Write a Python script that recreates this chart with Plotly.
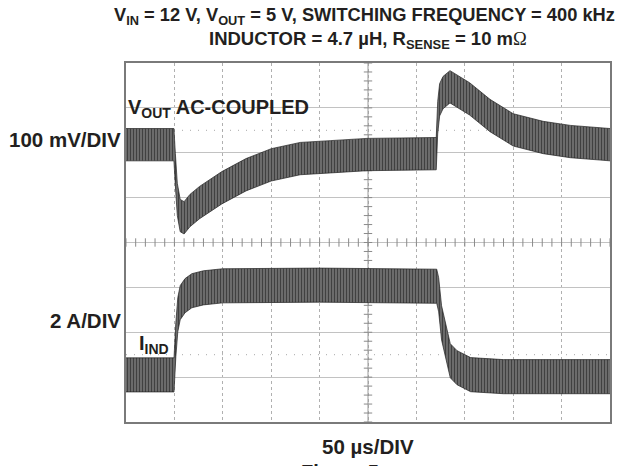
import numpy as np
import plotly.graph_objects as go

# ---------------- data ----------------
# time in microseconds (50 us/div, 10 divisions)
t_vout = [0, 20, 49.5, 51, 53, 56, 60, 66, 76, 99, 124, 150, 180, 211, 249, 285,
          320.5, 322, 324, 327.5, 334.7, 355, 376, 400, 431, 459, 500]
# VOUT deviation (AC coupled), mV (100 mV/div)
vout_mv = [0, 0, 0, -56, -122, -158, -163, -147, -129, -96, -67, -45, -31, -27, -22, -21,
           -20, 60, 100, 116, 129, 102, 65, 33, 16, 7, 0]
VOUT_RIPPLE_PP_MV = 72

t_ind = [0, 49.6, 51.5, 53.5, 56, 61, 68, 80, 100, 200, 321, 323, 326, 330, 335, 342, 356, 390, 500]
# inductor current, A (2 A/div)
i_ind = [2.1, 2.1, 3.67, 4.78, 5.32, 5.63, 5.85, 5.98, 6.07, 6.1, 6.05, 5.67, 4.42, 3.67, 2.73,
         2.42, 2.11, 2.02, 2.02]
IND_RIPPLE_PP_A = 1.52

# scope settings
US_PER_DIV = 50
MV_PER_DIV = 100
A_PER_DIV = 2
H_DIVS = 10
V_DIVS = 8
VOUT_ZERO_DIV = 2.18   # position of VOUT reference on screen (divisions from centre)
IND_ZERO_DIV = -4.0    # position of 0 A on screen
REF_MARKS_DIV = [2.5, -2.5]

# ---------------- figure ----------------
W, H = 626, 466
L, R, T, B = 126, 16, 63, 44
pw, ph = W - L - R, H - T - B

def px(x, y):
    return (x - L) / pw, (H - B - y) / ph

TXT = "#231f20"
FONT = "Liberation Sans, Arial, sans-serif"

fig = go.Figure()

t_end = US_PER_DIV * H_DIVS

# reference dotted marks
for r in REF_MARKS_DIV:
    fig.add_trace(go.Scatter(x=[0, t_end], y=[r, r], mode="lines",
                             line=dict(color="#a8a8a8", width=1, dash="1px,7px"),
                             hoverinfo="skip", showlegend=False))

# centre lines with graticule ticks
fig.add_trace(go.Scatter(x=[t_end / 2, t_end / 2], y=[-V_DIVS / 2, V_DIVS / 2], mode="lines",
                         line=dict(color="#9a9a9a", width=1), hoverinfo="skip", showlegend=False))
tx = np.arange(0, t_end + 0.1, US_PER_DIV / 5)
fig.add_trace(go.Scatter(x=tx, y=np.zeros_like(tx), mode="markers",
                         marker=dict(symbol="line-ns", size=6, line=dict(color="#8a8a8a", width=1)),
                         hoverinfo="skip", showlegend=False))
ty = np.arange(-V_DIVS / 2, V_DIVS / 2 + 0.01, 0.2)
fig.add_trace(go.Scatter(x=np.full_like(ty, t_end / 2), y=ty, mode="markers",
                         marker=dict(symbol="line-ew", size=6, line=dict(color="#8a8a8a", width=1)),
                         hoverinfo="skip", showlegend=False))

pattern = dict(shape="|", fgcolor="#000000", bgcolor="#808080", size=3, solidity=0.55)

def band(t, c, pp, yaxis):
    c = np.asarray(c, dtype=float)
    lo, hi = c - pp / 2, c + pp / 2
    fig.add_trace(go.Scatter(x=t, y=lo, yaxis=yaxis, mode="lines",
                             line=dict(color="#222222", width=0.7),
                             hoverinfo="skip", showlegend=False))
    fig.add_trace(go.Scatter(x=t, y=hi, yaxis=yaxis, mode="lines", fill="tonexty",
                             fillpattern=pattern, fillcolor="#808080",
                             line=dict(color="#222222", width=0.7),
                             hoverinfo="skip", showlegend=False))

band(t_vout, vout_mv, VOUT_RIPPLE_PP_MV, "y2")
band(t_ind, i_ind, IND_RIPPLE_PP_A, "y3")

axis_common = dict(showticklabels=False, ticks="", zeroline=False)
fig.update_layout(
    width=W, height=H,
    margin=dict(l=L, r=R, t=T, b=B),
    paper_bgcolor="white", plot_bgcolor="white",
    xaxis=dict(range=[0, t_end], dtick=US_PER_DIV, tick0=0, showgrid=True,
               gridcolor="#b0b0b0", griddash="dot", gridwidth=1,
               showline=True, mirror=True, linecolor="#7a7a7a", linewidth=1.5, **axis_common),
    yaxis=dict(range=[-V_DIVS / 2, V_DIVS / 2], dtick=1, tick0=0, showgrid=True,
               gridcolor="#c2c2c2", gridwidth=1,
               showline=True, mirror=True, linecolor="#7a7a7a", linewidth=1.5, **axis_common),
    yaxis2=dict(overlaying="y", visible=False,
                range=[(-V_DIVS / 2 - VOUT_ZERO_DIV) * MV_PER_DIV, (V_DIVS / 2 - VOUT_ZERO_DIV) * MV_PER_DIV]),
    yaxis3=dict(overlaying="y", visible=False,
                range=[(-V_DIVS / 2 - IND_ZERO_DIV) * A_PER_DIV, (V_DIVS / 2 - IND_ZERO_DIV) * A_PER_DIV]),
    showlegend=False,
)

def ann(text, x, y, size, xanchor="center", yanchor="middle"):
    ax, ay = px(x, y)
    fig.add_annotation(text=text, x=ax, y=ay, xref="paper", yref="paper",
                       xanchor=xanchor, yanchor=yanchor, showarrow=False,
                       font=dict(family=FONT, size=size, color=TXT))

ann("<b>V<sub>IN</sub> = 12 V, V<sub>OUT</sub> = 5 V, SWITCHING FREQUENCY = 400 kHz</b>", 112, 16, 18.3,
    xanchor="left")
ann("<b>INDUCTOR = 4.7 µH, R<sub>SENSE</sub> = 10 m</b>"
    "<span style=\"font-family:'Liberation Serif', serif\">Ω</span>", 368, 40, 18.5)
ann("<b>100 mV/DIV</b>", 123, 139, 20.5, xanchor="right")
ann("<b>V<sub>OUT</sub> AC-COUPLED</b>", 126, 109, 20, xanchor="left")
ann("<b>2 A/DIV</b>", 123, 320, 20.5, xanchor="right")
ann("<b>I<sub>IND</sub></b>", 137, 344, 20, xanchor="left")
ann("<b>50 µs/DIV</b>", 368, 446, 20.5)
ann("<b>Figure 5.</b>", 342, 459, 20, yanchor="top")

fig.write_html("out.html", config={"displayModeBar": False},
               post_script="document.body.style.margin='0';document.body.style.padding='0';")
